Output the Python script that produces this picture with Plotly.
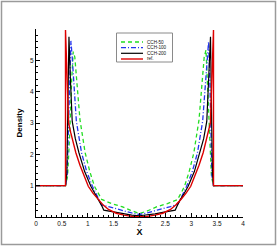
import plotly.graph_objects as go

# ---------------- data ----------------
ref_x = [0.0, 0.57, 0.57, 0.60, 0.63, 0.67, 0.72, 0.77, 0.85, 0.93, 1.01, 1.10, 1.20, 1.30, 1.40,
         1.55, 1.70, 1.85, 2.00, 2.15, 2.30, 2.45, 2.60, 2.70, 2.80, 2.90, 2.99, 3.07, 3.15,
         3.23, 3.28, 3.33, 3.37, 3.40, 3.43, 3.43, 4.0]
ref_y = [1.0, 1.0, 5.97, 4.5, 3.0, 2.7, 2.38, 2.05, 1.65, 1.3, 0.98, 0.76, 0.56, 0.38, 0.24,
         0.12, 0.06, 0.02, 0.01, 0.02, 0.06, 0.12, 0.24, 0.38, 0.56, 0.76, 0.98, 1.3, 1.65,
         2.05, 2.38, 2.7, 3.0, 4.5, 5.97, 1.0, 1.0]

c200_x = [0.0, 0.57, 0.595, 0.615, 0.637, 0.665, 0.70, 0.76, 0.83, 0.94, 1.06, 1.14, 1.22, 1.28,
          1.31, 1.40, 1.55, 1.70, 1.85, 2.00, 2.15, 2.30, 2.45, 2.60, 2.69, 2.72, 2.78, 2.86,
          2.94, 3.06, 3.17, 3.24, 3.30, 3.335, 3.372, 3.395, 3.41, 3.43, 4.0]
c200_y = [1.0, 1.0, 1.4, 3.0, 5.75, 4.4, 3.05, 2.5, 2.05, 1.45, 0.98, 0.74, 0.53, 0.33,
          0.22, 0.19, 0.15, 0.10, 0.06, 0.04, 0.06, 0.10, 0.15, 0.19, 0.22, 0.33, 0.53, 0.74,
          0.98, 1.45, 2.05, 2.5, 3.05, 4.4, 5.75, 3.0, 1.4, 1.0, 1.0]

c100_x = [0.0, 0.57, 0.60, 0.625, 0.65, 0.675, 0.70, 0.74, 0.78, 0.88, 0.98, 1.09, 1.17, 1.23,
          1.27, 1.40, 1.53, 1.66, 1.85, 2.00, 2.15, 2.34, 2.47, 2.60, 2.73, 2.77, 2.83, 2.91,
          3.02, 3.12, 3.22, 3.26, 3.30, 3.335, 3.355, 3.38, 3.40, 3.43, 4.0]
c100_y = [1.0, 1.0, 1.3, 2.6, 4.6, 5.62, 5.09, 4.0, 3.05, 2.05, 1.45, 0.98, 0.70, 0.50,
          0.38, 0.33, 0.27, 0.22, 0.13, 0.08, 0.13, 0.22, 0.27, 0.33, 0.40, 0.50, 0.70, 0.98,
          1.45, 2.05, 3.05, 4.0, 5.09, 5.6, 4.6, 2.6, 1.3, 1.0, 1.0]

c50_x = [0.0, 0.57, 0.61, 0.65, 0.69, 0.72, 0.75, 0.81, 0.85, 0.95, 1.04, 1.13, 1.21, 1.27,
         1.46, 1.66, 1.82, 2.00, 2.16, 2.34, 2.54, 2.73, 2.79, 2.87, 2.96, 3.05, 3.15, 3.19,
         3.25, 3.285, 3.31, 3.35, 3.39, 3.43, 4.0]
c50_y = [1.0, 1.0, 1.3, 2.6, 4.4, 5.28, 5.1, 4.0, 3.1, 2.05, 1.45, 0.98, 0.72, 0.56,
         0.43, 0.33, 0.22, 0.11, 0.20, 0.33, 0.43, 0.55, 0.72, 0.98, 1.45, 2.05, 3.1, 4.0,
         5.1, 5.33, 4.4, 2.6, 1.3, 1.0, 1.0]

series_names = ["CCH-50", "CCH-100", "CCH-200", "ref."]
series_colors = ["#22dd22", "#2233ee", "#000000", "#dd0000"]
series_dash = ["4px,3px", "5px,2px,1px,2px", "solid", "solid"]
series_width = [1.3, 1.3, 1.2, 1.4]

x_ticks = [0, 0.5, 1, 1.5, 2, 2.5, 3, 3.5, 4]
x_ticklabels = ["0", "0.5", "1", "1.5", "2", "2.5", "3", "3.5", "4"]
y_ticks = [1, 2, 3, 4, 5]

# ---------------- layout geometry ----------------
W, H = 277, 246
L, R, T, B = 36, 34, 29, 29
PW, PH = W - L - R, H - T - B
FONT = "Liberation Sans, Arial, sans-serif"


def px(x):
    return (x - L) / PW


def py(y):
    return (H - B - y) / PH


fig = go.Figure()
xs = [c50_x, c100_x, c200_x, ref_x]
ys = [c50_y, c100_y, c200_y, ref_y]
for i in range(4):
    fig.add_trace(go.Scatter(x=xs[i], y=ys[i], mode="lines", name=series_names[i],
                             line=dict(color=series_colors[i], dash=series_dash[i],
                                       width=series_width[i]),
                             showlegend=False))

shapes = []
annotations = []
# outer frame
shapes.append(dict(type="rect", xref="paper", yref="paper",
                   x0=px(1.5), x1=px(275.5), y0=py(244.5), y1=py(1.5),
                   line=dict(color="#9a9a9a", width=1.5)))
# legend box
shapes.append(dict(type="rect", xref="paper", yref="paper",
                   x0=px(116.5), x1=px(172.5), y0=py(62), y1=py(33),
                   line=dict(color="#8a8a8a", width=1), fillcolor="white", layer="below"))
rows = [42, 47.7, 53.3, 59]
for i in range(4):
    shapes.append(dict(type="line", xref="paper", yref="paper",
                       x0=px(121), x1=px(143), y0=py(rows[i]), y1=py(rows[i]),
                       line=dict(color=series_colors[i], dash=series_dash[i],
                                 width=series_width[i])))
    annotations.append(dict(xref="paper", yref="paper", x=px(145), y=py(rows[i]),
                            text=series_names[i], showarrow=False, xanchor="left",
                            yanchor="middle", font=dict(size=4.6, family=FONT, color="#111")))

fig.update_layout(
    width=W, height=H,
    margin=dict(l=L, r=R, t=T, b=B, pad=0),
    paper_bgcolor="white", plot_bgcolor="white",
    showlegend=False,
    shapes=shapes, annotations=annotations,
    font=dict(family=FONT, size=7, color="#111"),
    xaxis=dict(range=[0, 4], tickvals=x_ticks, ticktext=x_ticklabels,
               ticks="inside", ticklen=4, tickwidth=1, tickcolor="black",
               minor=dict(ticks="inside", ticklen=2, dtick=0.1, tickcolor="black", tickwidth=1),
               showline=True, linecolor="black", linewidth=1, showgrid=False, zeroline=False,
               tickfont=dict(size=6.5, family=FONT, color="#111"),
               title=dict(text="<b>X</b>", font=dict(size=9, family=FONT, color="black"), standoff=2)),
    yaxis=dict(range=[0, 6], tickvals=y_ticks,
               ticks="inside", ticklen=4, tickwidth=1, tickcolor="black",
               minor=dict(ticks="inside", ticklen=2, dtick=0.2, tickcolor="black", tickwidth=1),
               showline=True, linecolor="black", linewidth=1, showgrid=False, zeroline=False,
               tickfont=dict(size=6.5, family=FONT, color="#111"),
               title=dict(text="<b>Density</b>", font=dict(size=8, family=FONT, color="black"), standoff=6)),
)

fig.write_html("out.html", config=dict(displayModeBar=False),
               post_script="document.body.style.margin='0px';document.body.style.overflow='hidden';")
